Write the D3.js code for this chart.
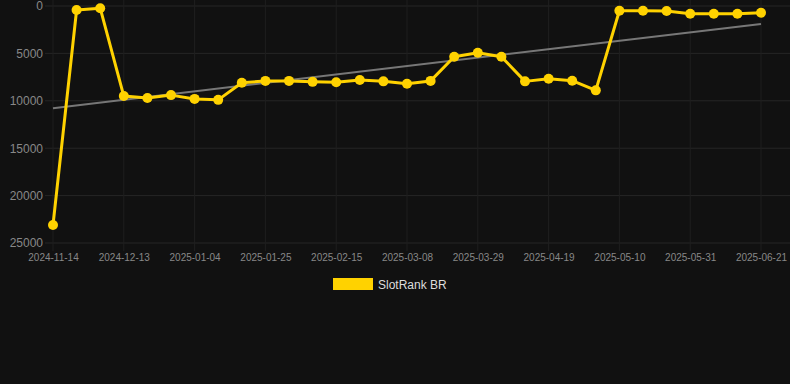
<!DOCTYPE html>
<html><head><meta charset="utf-8">
<script src="https://cdn.jsdelivr.net/npm/d3@7"></script>
<style>html,body{margin:0;padding:0;background:#111111;}svg{display:block;}</style>
</head><body>
<svg id="c" width="790" height="384"></svg>
<script>
const dates = ["2024-11-14","2024-11-23","2024-12-03","2024-12-13","2024-12-20","2024-12-27","2025-01-04","2025-01-11","2025-01-18","2025-01-25","2025-02-01","2025-02-08","2025-02-15","2025-02-22","2025-03-01","2025-03-08","2025-03-15","2025-03-22","2025-03-29","2025-04-05","2025-04-12","2025-04-19","2025-04-26","2025-05-03","2025-05-10","2025-05-17","2025-05-24","2025-05-31","2025-06-07","2025-06-14","2025-06-21"];
const ranks = [23100,420,230,9500,9700,9400,9800,9900,8100,7900,7900,8000,8050,7800,7950,8200,7900,5350,4930,5350,7950,7670,7880,8900,500,500,530,810,810,810,710];
const yTicks = [0,5000,10000,15000,20000,25000];
const seriesName = "SlotRank BR";

const svg = d3.select("#c");
const x = d3.scalePoint().domain(dates).range([53, 761]);
const y = d3.scaleLinear().domain([0, 25000]).range([6, 243]);
const xTickLabels = dates.filter((d,i)=>i%3===0);

// grid
const g = svg.append("g");
g.selectAll(".hg").data(yTicks).join("line")
  .attr("x1",45).attr("x2",790).attr("y1",d=>y(d)).attr("y2",d=>y(d))
  .attr("stroke","#262626").attr("stroke-width",1);
g.selectAll(".vg").data(xTickLabels).join("line")
  .attr("x1",d=>x(d)).attr("x2",d=>x(d)).attr("y1",0).attr("y2",251)
  .attr("stroke","#1f1f1f").attr("stroke-width",1);

// axes labels
const yAxis = d3.axisLeft(y).tickValues(yTicks).tickSize(0).tickPadding(0).tickFormat(d=>String(d));
const ya = svg.append("g").attr("transform","translate(43,0)").call(yAxis);
ya.select(".domain").remove();
ya.selectAll("text").attr("fill","#888").style("font-family","'Liberation Sans', Arial, sans-serif").style("font-size","12px");

const xAxis = d3.axisBottom(x).tickValues(xTickLabels).tickSize(0).tickPadding(0);
const xa = svg.append("g").attr("transform","translate(0,254)").call(xAxis);
xa.select(".domain").remove();
xa.selectAll("text").attr("fill","#888").style("font-family","'Liberation Sans', Arial, sans-serif").style("font-size","10px");

// trend line (linear regression)
const n = ranks.length;
const idx = d3.range(n);
const mx = d3.mean(idx), my = d3.mean(ranks);
const slope = d3.sum(idx, i => (i-mx)*(ranks[i]-my)) / d3.sum(idx, i => (i-mx)*(i-mx));
const icpt = my - slope*mx;
svg.append("line")
  .attr("x1", x(dates[0])).attr("y1", y(icpt))
  .attr("x2", x(dates[n-1])).attr("y2", y(icpt + slope*(n-1)))
  .attr("stroke","#777").attr("stroke-width",2);

// series line
const line = d3.line().x((d,i)=>x(dates[i])).y(d=>y(d));
svg.append("path").datum(ranks).attr("d",line)
  .attr("fill","none").attr("stroke","#FFD200").attr("stroke-width",3).attr("stroke-linejoin","round");
svg.selectAll(".pt").data(ranks).join("circle")
  .attr("cx",(d,i)=>x(dates[i])).attr("cy",d=>y(d)).attr("r",5)
  .attr("fill","#FFD200");

// legend
svg.append("rect").attr("x",333).attr("y",278).attr("width",40).attr("height",12).attr("fill","#FFD200");
svg.append("text").attr("x",378).attr("y",288.5).text(seriesName)
  .attr("fill","#ddd").style("font-family","'Liberation Sans', Arial, sans-serif").style("font-size","12px");
</script>
</body></html>
